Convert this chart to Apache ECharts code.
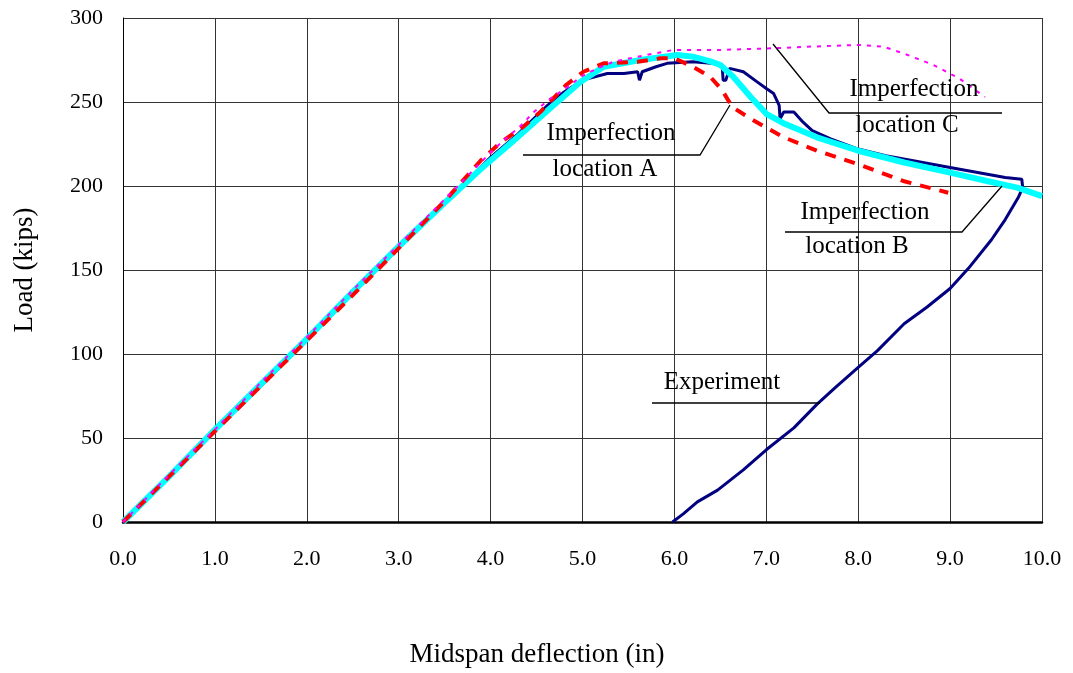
<!DOCTYPE html>
<html><head><meta charset="utf-8">
<script src="https://cdn.jsdelivr.net/npm/echarts@6/dist/echarts.min.js"></script>
<style>html,body{margin:0;padding:0;background:#fff}#c{width:1073px;height:673px}</style>
</head><body><div id="c"></div>
<script>
var xTicks = ['0.0','1.0','2.0','3.0','4.0','5.0','6.0','7.0','8.0','9.0','10.0'];
var yTicks = [0,50,100,150,200,250,300];

var experiment = [[0,0],[0.5,27],[1,54],[1.5,81],[2,108],[2.5,136],[3,163],[3.5,190],[4,217],[4.3,231],[4.62,248],[4.8,256],[5.0,263],[5.27,267],[5.45,267],[5.6,268],[5.62,263],[5.65,268],[5.8,271],[5.92,273],[6.2,274],[6.4,273],[6.52,272],[6.53,263],[6.56,263],[6.6,270],[6.75,268],[6.9,262],[7.0,258],[7.08,255],[7.14,248],[7.15,240],[7.17,240],[7.19,244],[7.3,244],[7.4,238],[7.5,233],[7.7,228],[8.0,222],[8.3,218],[8.6,215],[9.0,211],[9.3,208],[9.6,205],[9.78,204],[9.79,199],[9.74,193],[9.6,180],[9.45,168],[9.2,151],[9.0,139],[8.75,128],[8.5,118],[8.21,102],[8.0,92],[7.75,80],[7.55,70],[7.3,56],[7.0,43],[6.75,31],[6.47,19],[6.25,12],[6.1,5],[5.98,0]];

var locationB = [[0,0],[0.5,27],[1,55],[1.5,82],[2,109],[2.5,137],[3,164],[3.5,190],[3.89,210],[4.25,227],[4.62,245],[4.98,262],[5.23,271],[5.63,275],[6.03,278],[6.2,277],[6.4,274],[6.5,272],[6.64,265],[6.83,253],[7.0,243],[7.2,237],[7.55,229],[8.0,221],[8.5,214],[9.0,208],[9.4,203],[9.73,199],[10,194]];

var locationA = [[0,0],[0.5,27],[1,54],[1.5,81],[2,108],[2.5,135],[3,163],[3.5,191],[3.89,215],[4.11,226],[4.35,235],[4.54,244],[4.82,260],[5.01,268],[5.23,273],[5.6,274],[5.85,276],[6.0,276],[6.2,271],[6.39,265],[6.52,257],[6.63,247],[6.83,240],[7.19,229],[7.55,221],[8.0,213],[8.49,203],[8.98,196]];

var locationC = [[0,0],[0.5,28],[1,55],[1.5,83],[2,110],[2.5,138],[3,165],[3.5,192],[4.0,220],[4.14,227],[4.33,236],[4.47,244],[4.65,252],[4.84,259],[4.98,265],[5.16,270],[5.34,274],[5.52,276],[5.7,278],[5.99,281],[6.5,281],[7.08,282],[7.5,283],[8.0,284],[8.27,283],[8.49,279],[8.82,272],[9.1,264],[9.38,253]];

var chart = echarts.init(document.getElementById('c'), null, {renderer:'canvas'});
var FONT = '"Liberation Serif","Times New Roman",serif';
function line(pts){return {type:'polyline', shape:{points:pts}, style:{stroke:'#000', lineWidth:1.3, fill:null}, z:100};}
function txt(x,y,s){return {type:'text', x:x, y:y, style:{text:s, fontFamily:FONT, fontSize:25, fill:'#000', textAlign:'center', textVerticalAlign:'middle'}, z:101};}
chart.setOption({
  animation:false,
  grid:{left:123, right:31, top:18, bottom:151, containLabel:false},
  xAxis:{type:'value', min:0, max:10, interval:1,
    axisLine:{lineStyle:{color:'#000', width:2.5}}, axisTick:{show:false},
    axisLabel:{margin:26, color:'#000', fontFamily:FONT, fontSize:22, formatter:function(v){return xTicks[Math.round(v)];}},
    splitLine:{lineStyle:{color:'#333', width:1}}},
  yAxis:{type:'value', min:0, max:300, interval:50,
    axisLine:{show:true, lineStyle:{color:'#000', width:1}}, axisTick:{show:false},
    axisLabel:{margin:20, color:'#000', fontFamily:FONT, fontSize:22, formatter:function(v){return String(yTicks[Math.round(v/50)]);}},
    splitLine:{lineStyle:{color:'#333', width:1}}},
  series:[
    {type:'line', name:'Experiment', data:experiment, showSymbol:false, lineStyle:{color:'#000080', width:3}, z:2},
    {type:'line', name:'Imperfection location B', data:locationB, showSymbol:false, lineStyle:{color:'#00FFFF', width:6}, z:3},
    {type:'line', name:'Imperfection location A', data:locationA, showSymbol:false, lineStyle:{color:'#FF0000', width:4, type:[11,9]}, z:4},
    {type:'line', name:'Imperfection location C', data:locationC, showSymbol:false, lineStyle:{color:'#FF00FF', width:2, type:[4,6]}, z:5}
  ],
  graphic:[
    {type:'text', x:537, y:655, style:{text:'Midspan deflection (in)', fontFamily:FONT, fontSize:27, fill:'#000', textAlign:'center', textVerticalAlign:'middle'}},
    {type:'text', x:25, y:270, rotation:Math.PI/2, style:{text:'Load (kips)', fontFamily:FONT, fontSize:27, fill:'#000', textAlign:'center', textVerticalAlign:'middle'}},
    line([[523,155],[700,155],[730,105]]), txt(611,133,'Imperfection'), txt(605,169,'location A'),
    line([[1002,113],[829,113],[773,44]]), txt(914,89,'Imperfection'), txt(907,125,'location C'),
    line([[785,232],[962,232],[1002,186]]), txt(865,212,'Imperfection'), txt(857,246,'location B'),
    line([[652,403],[820,403]]), txt(722,382,'Experiment')
  ]
});
</script></body></html>
